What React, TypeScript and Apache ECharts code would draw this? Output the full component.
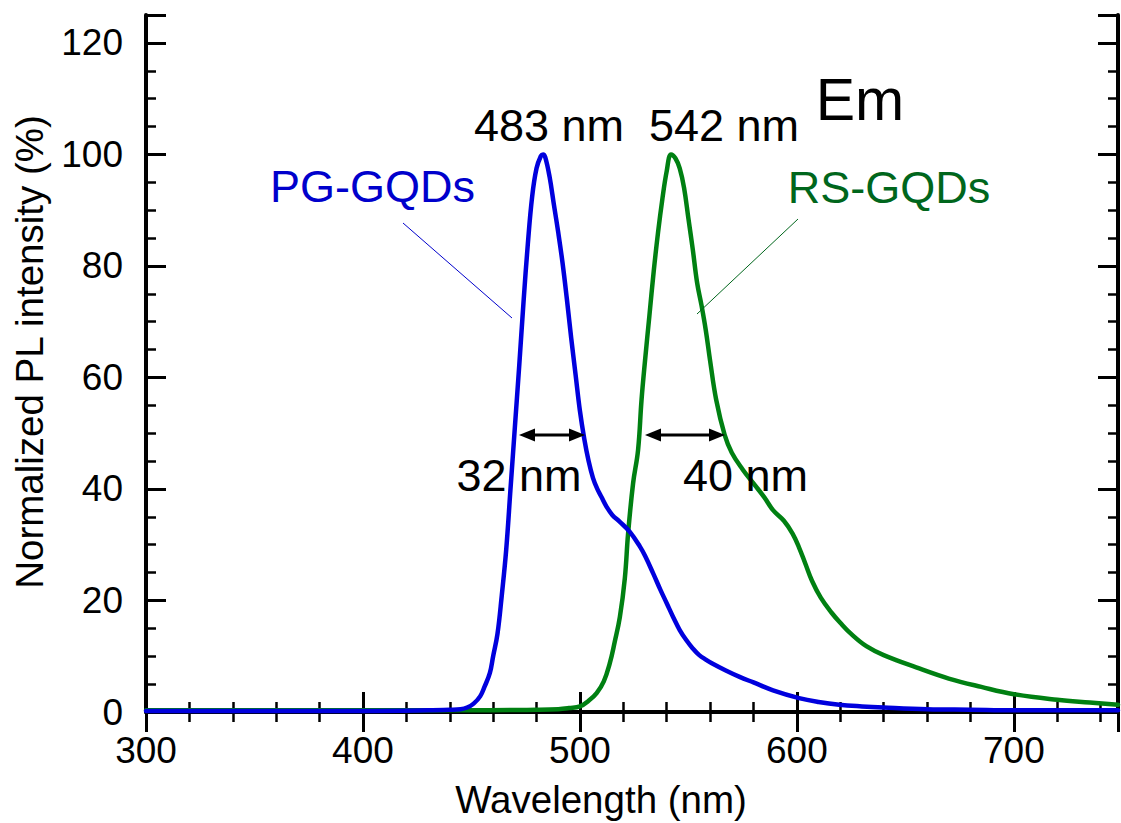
import React, { useEffect, useRef } from "react";
import * as echarts from "echarts";

// ---- data ----
const pgWavelength = [300, 350, 400, 430, 440, 445, 448, 451, 454, 456, 458.5, 460, 462, 464, 466, 468, 470, 472, 474, 476, 478, 480, 482, 483, 484, 486, 488, 490, 492, 494, 496, 498, 500, 502, 504, 506, 508, 510, 512.3, 515, 518.4, 523, 527.6, 530, 533.7, 537, 540, 543, 546, 549, 552, 555, 558, 561, 567, 573.6, 580, 589, 601, 610, 619.5, 630, 640, 660, 680, 700, 748];
const pgIntensity = [0.2, 0.2, 0.2, 0.3, 0.4, 0.5, 0.8, 1.5, 2.8, 4.5, 7, 10, 14, 21, 29, 40, 51, 62, 73.5, 84, 92.5, 97.5, 99.7, 100, 99.5, 96, 91, 86, 80.5, 74, 67, 60.5, 54, 49, 45, 42, 40, 38.5, 36.8, 35.3, 34.1, 32.3, 29.7, 28, 24.9, 22, 19.5, 17, 14.7, 12.9, 11.4, 10.2, 9.4, 8.7, 7.5, 6.3, 5.3, 3.9, 2.5, 1.8, 1.3, 1.0, 0.8, 0.5, 0.4, 0.3, 0.3];

const rsWavelength = [300, 350, 400, 450, 480, 490, 495, 500, 504, 507.7, 511, 513.8, 516, 518.4, 520.7, 522.2, 524.5, 526.8, 528.4, 530, 532, 534, 536, 538, 540, 542, 544, 546, 548, 550, 552, 554, 556, 558, 560, 562.8, 566.7, 570, 575, 580, 585, 589, 594, 598, 601, 604, 607, 611, 616, 620, 625, 632, 640, 655, 670, 685, 700, 720, 735, 748];
const rsIntensity = [0.3, 0.3, 0.3, 0.3, 0.4, 0.5, 0.7, 1.0, 2, 3.4, 5.5, 8.8, 12.5, 17, 24, 32, 41, 47, 56, 63, 71, 79, 86, 92, 97, 100, 99.3, 97.5, 94, 88.5, 83, 77, 73, 68.5, 63, 56, 49.7, 46.5, 43.5, 41, 38.5, 36.2, 34.3, 32, 29.5, 26.5, 23.5, 20.5, 17.8, 16, 14, 11.8, 10.2, 8, 6, 4.5, 3.2, 2.2, 1.7, 1.3];

const xTickLabels = ["300", "400", "500", "600", "700"];
const yTickLabels = ["0", "20", "40", "60", "80", "100", "120"];

const FONT = "'Liberation Sans', Arial, sans-serif";
const BLUE = "#0000dd";
const GREEN = "#008012";

export default function App() {
  const ref = useRef<HTMLDivElement>(null);
  useEffect(() => {
    document.body.style.margin = "0";
    const chart = echarts.init(ref.current!, undefined, { renderer: "svg" });
    const xMin = 300, xMax = 748, yMin = 0, yMax = 125;
    const axisLine = { show: true, lineStyle: { color: "#000", width: 4 } };
    const majorX = (pos: string, labels: boolean) => ({
      type: "value", min: xMin, max: xMax, interval: 100, position: pos,
      axisLine, splitLine: { show: false },
      axisTick: { show: true, inside: true, length: 20, lineStyle: { color: "#000", width: 3 } },
      axisLabel: labels ? {
        show: true, margin: 20, fontSize: 37, color: "#000", fontFamily: FONT,
        formatter: (v: number) => (xTickLabels.includes(String(v)) ? String(v) : ""),
      } : { show: false },
    });
    const minorX = (pos: string) => ({
      type: "value", min: xMin, max: xMax, interval: 20, position: pos,
      axisLine: { show: false }, splitLine: { show: false }, axisLabel: { show: false },
      axisTick: { show: true, inside: true, length: 10, lineStyle: { color: "#000", width: 2.5 } },
    });
    const majorY = (pos: string, labels: boolean) => ({
      type: "value", min: yMin, max: yMax, interval: 20, position: pos,
      axisLine, splitLine: { show: false },
      axisTick: { show: true, inside: true, length: 20, lineStyle: { color: "#000", width: 3 } },
      axisLabel: labels ? {
        show: true, margin: 23, fontSize: 37, color: "#000", fontFamily: FONT,
        formatter: (v: number) => (yTickLabels.includes(String(v)) ? String(v) : ""),
      } : { show: false },
    });
    const minorY = (pos: string) => ({
      type: "value", min: yMin, max: yMax, interval: 5, position: pos,
      axisLine: { show: false }, splitLine: { show: false }, axisLabel: { show: false },
      axisTick: { show: true, inside: true, length: 10, lineStyle: { color: "#000", width: 2.5 } },
    });

    const txt = (text: string, x: number, y: number, size: number, fill = "#000", rotation = 0) => ({
      type: "text", x, y, rotation, z: 100,
      style: { text, fontSize: size, fontFamily: FONT, fill, align: "center", verticalAlign: "middle" },
    });
    const arrow = (x1: number, x2: number, y: number) => [
      { type: "line", z: 100, shape: { x1: x1 + 12, y1: y, x2: x2 - 12, y2: y }, style: { stroke: "#000", lineWidth: 3 } },
      { type: "polygon", z: 100, shape: { points: [[x1, y], [x1 + 16, y - 6.5], [x1 + 16, y + 6.5]] }, style: { fill: "#000" } },
      { type: "polygon", z: 100, shape: { points: [[x2, y], [x2 - 16, y - 6.5], [x2 - 16, y + 6.5]] }, style: { fill: "#000" } },
    ];

    chart.setOption({
      animation: false,
      grid: { left: 146, right: 1, top: 15, bottom: 111, containLabel: false },
      xAxis: [majorX("bottom", true), minorX("bottom"), majorX("top", false), minorX("top")],
      yAxis: [majorY("left", true), minorY("left"), majorY("right", false), minorY("right")],
      series: [
        {
          name: "PG-GQDs", type: "line", xAxisIndex: 0, yAxisIndex: 0, showSymbol: false,
          smooth: 0.4,
          lineStyle: { color: BLUE, width: 4.5, cap: "round", join: "round" }, itemStyle: { color: BLUE },
          data: pgWavelength.map((w, i) => [w, pgIntensity[i]]), z: 3,
        },
        {
          name: "RS-GQDs", type: "line", xAxisIndex: 0, yAxisIndex: 0, showSymbol: false,
          smooth: 0.4,
          lineStyle: { color: GREEN, width: 4.5, cap: "round", join: "round" }, itemStyle: { color: GREEN },
          data: rsWavelength.map((w, i) => [w, rsIntensity[i]]), z: 2,
        },
      ],
      graphic: [
        txt("483 nm", 549, 125, 45),
        txt("542 nm", 724, 125, 45),
        txt("Em", 860, 100, 59),
        txt("PG-GQDs", 372.5, 186, 45, "#0000cc"),
        txt("RS-GQDs", 889, 187.5, 45, "#00661c"),
        txt("32 nm", 519, 475, 45),
        txt("40 nm", 745.5, 475, 45),
        txt("Wavelength (nm)", 601, 799, 38.5),
        txt("Normalized PL intensity (%)", 29, 352, 38.5, "#000", Math.PI / 2),
        { type: "line", z: 100, shape: { x1: 403, y1: 223, x2: 512, y2: 318 }, style: { stroke: "#0000cc", lineWidth: 1 } },
        { type: "line", z: 100, shape: { x1: 798, y1: 219, x2: 697, y2: 314 }, style: { stroke: "#00661c", lineWidth: 1 } },
        ...arrow(519, 585, 435),
        ...arrow(645, 725, 435),
      ],
    });
    return () => chart.dispose();
  }, []);
  return <div ref={ref} style={{ position: "absolute", left: 0, top: 0, width: 1121, height: 823, background: "#fff" }} />;
}
